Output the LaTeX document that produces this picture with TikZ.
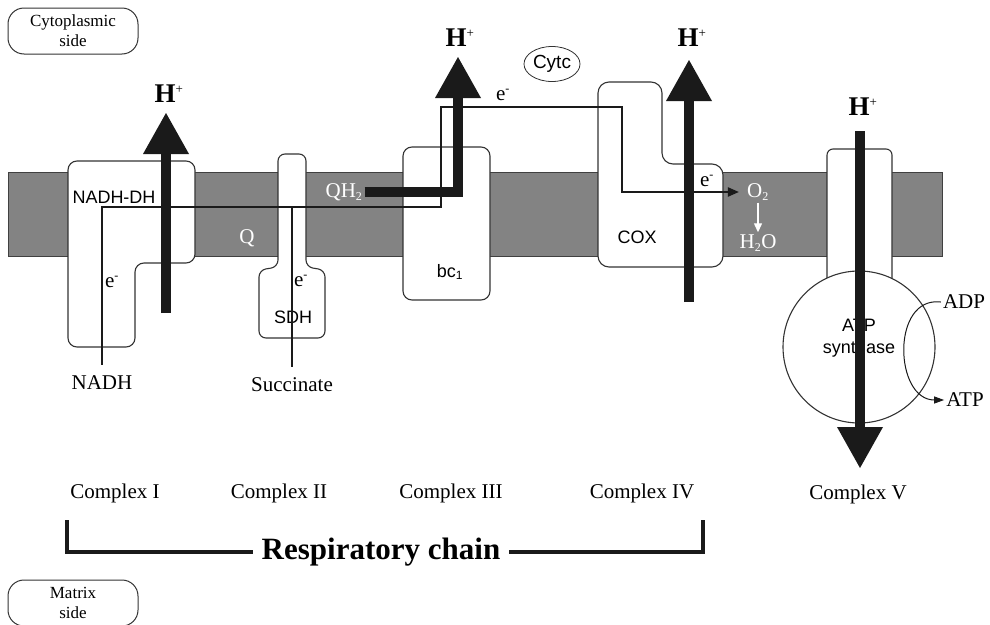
\documentclass[tikz,border=0pt]{standalone}
\usepackage{fontspec}
\setmainfont{Liberation Serif}
\setsansfont{Liberation Sans}
\usepackage{tikz}
\usetikzlibrary{arrows.meta,shapes.geometric}
\definecolor{memgray}{HTML}{838383}
\definecolor{inkblack}{HTML}{1A1A1A}
\newcommand{\serifmed}{\fontsize{21}{23}\selectfont}
\newcommand{\protfont}{\sffamily\fontsize{18}{22}\selectfont}
\newcommand{\hionfont}{\bfseries\fontsize{27}{30}\selectfont}
\newcommand{\sidefont}{\fontsize{17}{20}\selectfont}
\newcommand{\chainfont}{\bfseries\fontsize{31}{34}\selectfont}
\newcommand{\Hplus}{H\textsuperscript{\mdseries\fontsize{13}{13}\selectfont +}}
\newcommand{\elec}{e\textsuperscript{\fontsize{12}{12}\selectfont -}}
\newcommand{\chemsub}[1]{\textsubscript{\fontsize{12}{12}\selectfont #1}}

\begin{document}
\begin{tikzpicture}[x=1pt,y=-1pt,
  membrane/.style={fill=memgray,draw=black!75,line width=0.8pt},
  complexbox/.style={fill=white,draw=black!80,line width=1.1pt,rounded corners=9pt},
  sidebox/.style={draw=black!80,line width=1pt,rounded corners=16pt,minimum width=130pt,minimum height=46pt,align=center,font=\sidefont,inner sep=0pt},
  eline/.style={line width=2pt,draw=inkblack},
  etip/.style={-{Triangle[length=11pt,width=9pt]}},
  proton/.style={line width=10pt,draw=inkblack,line join=miter,-{Triangle[length=41pt,width=46pt,line width=0pt]}},
  bracket/.style={line width=4pt,draw=inkblack,line join=miter},
  hion/.style={font=\hionfont,inner sep=1pt},
  prot/.style={font=\protfont,inner sep=1pt},
  chem/.style={font=\serifmed,inner sep=2pt},
  whitechem/.style={chem,text=white}]
\useasboundingbox (0,0) rectangle (990,624);
\draw[membrane] (8,172) rectangle (942,256);

\draw[complexbox] (68,161) -- (195,161) -- (195,263) -- (135,263) -- (135,347) -- (68,347) -- cycle;
\draw[complexbox,rounded corners=7pt] (278,154) -- (306,154) -- (306,267) -- (325,270) -- (325,338) -- (259,338) -- (259,270) -- (278,267) -- cycle;
\draw[complexbox] (403,147) rectangle (490,300);
\draw[complexbox,rounded corners=11pt] (598,82) -- (662,82) -- (662,164) -- (723,164) -- (723,267) -- (598,267) -- cycle;
\draw[complexbox,rounded corners=6pt] (827,300) -- (827,149) -- (892,149) -- (892,300);
\node[complexbox,circle,minimum size=152pt,inner sep=0pt] (atpase) at (859,347) {};

\node[sidebox] (cyto) at (73,31) {Cytoplasmic\\side};
\node[sidebox] (matrix) at (73,603) {Matrix\\side};

\node[prot] (nadhdh) at (114,197) {NADH-DH};
\node[prot] (sdh) at (293,317) {SDH};
\node[prot] (bc) at (450,272) {bc\chemsub{1}};
\node[prot] (cox) at (637,237) {COX};
\node[prot,align=center] (atpname) at (859,338) {ATP\\synthase};
\node[draw=black!80,line width=0.8pt,ellipse,minimum width=56pt,minimum height=35pt,inner sep=0pt,font=\sffamily\fontsize{19}{21}\selectfont] (cytc) at (552,64) {Cytc};

\node[chem] (nadh) at (102,383) {NADH};
\node[chem] (succ) at (292,385) {Succinate};
\node[whitechem] (q) at (247,238) {Q};
\node[whitechem] (qh2) at (344,192) {QH\chemsub{2}};
\node[whitechem] (o2) at (758,192) {O\chemsub{2}};
\node[whitechem] (h2o) at (758,243) {H\chemsub{2}O};
\node[chem] (adp) at (964,302) {ADP};
\node[chem] (atp) at (965,400) {ATP};
\node[chem] (e1) at (112,282) {\elec};
\node[chem] (e2) at (301,281) {\elec};
\node[chem] (e3) at (503,95) {\elec};
\node[chem] (e4) at (707,181) {\elec};

\coordinate (qpool) at (441,207);
\coordinate (cytcpath) at (622,107);
\draw[eline,etip,shorten <=9pt,shorten >=6pt] (nadh.north) |- (qpool) |- (cytcpath) |- (o2.west);
\draw[eline,shorten <=9pt] (succ.north) -- (succ.north |- qpool);
\draw[white,line width=1.3pt,-{Triangle[length=9pt,width=8pt]}] (o2) -- (h2o);
\draw[line width=1pt,draw=inkblack,-{Triangle[length=10pt,width=7pt]}] (adp.west) .. controls +(-50,-6) and +(-50,0) .. (atp.west);

\coordinate (h1base) at (166,313);
\coordinate (h1tip) at (166,113);
\coordinate (h3tip) at (458,57);
\coordinate (h4base) at (689,302);
\coordinate (h4tip) at (689,60);
\coordinate (h5base) at (860,131);
\coordinate (h5tip) at (860,468);
\draw[proton] (h1base) -- (h1tip);
\draw[proton] (qh2.east) -| (h3tip);
\draw[proton] (h4base) -- (h4tip);
\draw[proton] (h5base) -- (h5tip);
\node[hion] (h1) at (169,94) {\Hplus};
\node[hion] (h3) at (460,38) {\Hplus};
\node[hion] (h4) at (692,38) {\Hplus};
\node[hion] (h5) at (863,107) {\Hplus};

\node[chem] (c1) at (115,493) {Complex I};
\node[chem] (c2) at (279,493) {Complex II};
\node[chem] (c3) at (451,493) {Complex III};
\node[chem] (c4) at (642,493) {Complex IV};
\node[chem] (c5) at (858,494) {Complex V};

\coordinate (brL) at (67,520);
\coordinate (brR) at (703,520);
\node[font=\chainfont,inner sep=0pt,inner xsep=9pt] (chain) at (381,552) {Respiratory chain};
\draw[bracket] (brL) |- (chain.west);
\draw[bracket] (chain.east) -| (brR);
\end{tikzpicture}
\end{document}
